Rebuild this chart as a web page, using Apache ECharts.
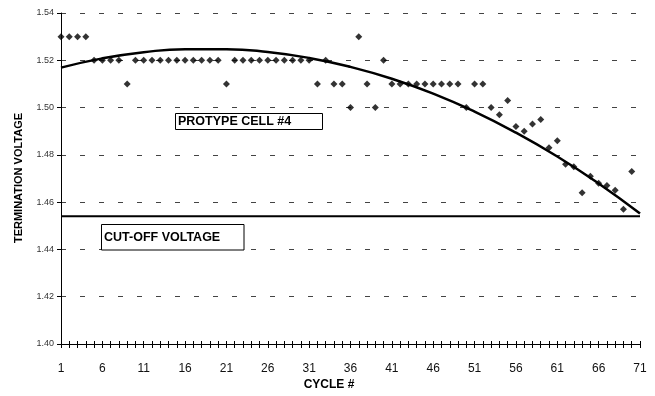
<!DOCTYPE html>
<html>
<head>
<meta charset="utf-8">
<script src="https://cdn.jsdelivr.net/npm/echarts@6/dist/echarts.min.js"></script>
<style>
  html, body { margin: 0; padding: 0; background: #fff; }
  #main { width: 655px; height: 396px; }
</style>
</head>
<body>
<div id="main"></div>
<script>
// cycle numbers 1..71 on the x axis
var cycles = [];
for (var i = 1; i <= 71; i++) cycles.push(String(i));

// termination voltage per cycle (cycles 1..70)
var voltage = [
  1.53, 1.53, 1.53, 1.53, 1.52, 1.52, 1.52, 1.52, 1.51, 1.52,
  1.52, 1.52, 1.52, 1.52, 1.52, 1.52, 1.52, 1.52, 1.52, 1.52,
  1.51, 1.52, 1.52, 1.52, 1.52, 1.52, 1.52, 1.52, 1.52, 1.52,
  1.52, 1.51, 1.52, 1.51, 1.51, 1.50, 1.53, 1.51, 1.50, 1.52,
  1.51, 1.51, 1.51, 1.51, 1.51, 1.51, 1.51, 1.51, 1.51, 1.50,
  1.51, 1.51, 1.50, 1.497, 1.503, 1.492, 1.490, 1.493, 1.495, 1.483,
  1.486, 1.476, 1.475, 1.464, 1.471, 1.468, 1.467, 1.465, 1.457, 1.473
];

// trend curve
var trendCycles = ['1', '6', '11', '16', '21', '26', '31', '36', '41', '46', '51', '56', '61', '66', '71'];
var trendValues = [1.5169, 1.5208, 1.5234, 1.5247, 1.5247, 1.5235, 1.5210, 1.5172, 1.5122, 1.5059, 1.4983, 1.4894, 1.4793, 1.4679, 1.4552];

// cut-off voltage level
var cutOff = 1.454;
var cutOffCycles = ['1', '71'];

var yTicks = { min: 1.40, max: 1.54, step: 0.02 };

var font = 'Liberation Sans, Arial, sans-serif';
var chart = echarts.init(document.getElementById('main'));

var trendData = trendCycles.map(function (c, k) { return [c, trendValues[k]]; });
var cutOffData = cutOffCycles.map(function (c) { return [c, cutOff]; });

chart.setOption({
  animation: false,
  grid: { left: 61, right: 15, top: 13, bottom: 52 },
  xAxis: [{
    type: 'category',
    data: cycles,
    boundaryGap: false,
    axisLine: { lineStyle: { color: '#000', width: 1 } },
    axisTick: { show: true, interval: 0, length: 4, lineStyle: { color: '#000' } },
    axisLabel: {
      interval: 4, margin: 19, color: '#111',
      fontFamily: font, fontSize: 12
    },
    splitLine: { show: false }
  }, {
    type: 'category',
    data: cycles,
    position: 'bottom',
    boundaryGap: false,
    axisLine: { show: false },
    axisTick: { show: true, inside: true, interval: 0, length: 3, lineStyle: { color: '#000' } },
    axisLabel: { show: false },
    splitLine: { show: false }
  }],
  yAxis: {
    type: 'value',
    min: yTicks.min,
    max: yTicks.max,
    interval: yTicks.step,
    axisLine: { show: true, lineStyle: { color: '#000', width: 1 } },
    axisTick: { show: true, length: 4, lineStyle: { color: '#000' } },
    axisLabel: {
      margin: 7, color: '#333', fontFamily: font, fontSize: 9,
      formatter: function (v) { return v.toFixed(2); }
    },
    splitLine: {
      show: true,
      lineStyle: { color: '#444', width: 1, type: [5, 14] }
    }
  },
  series: [{
    type: 'scatter',
    data: voltage,
    symbol: 'diamond',
    symbolSize: 7,
    itemStyle: { color: '#000' }
  }, {
    type: 'line',
    data: trendData,
    smooth: true,
    showSymbol: false,
    lineStyle: { color: '#000', width: 2.5 },
    z: 3
  }, {
    type: 'line',
    data: cutOffData,
    showSymbol: false,
    lineStyle: { color: '#000', width: 2 },
    z: 3
  }],
  graphic: [{
    type: 'text',
    x: 19, y: 178,
    rotation: Math.PI / 2,
    style: {
      text: 'TERMINATION VOLTAGE',
      font: 'bold 11px ' + font,
      fill: '#000',
      align: 'center',
      verticalAlign: 'middle'
    }
  }, {
    type: 'text',
    x: 329, y: 385,
    style: {
      text: 'CYCLE #',
      font: 'bold 12px ' + font,
      fill: '#000',
      align: 'center',
      verticalAlign: 'middle'
    }
  }, {
    type: 'rect',
    shape: { x: 175.5, y: 113.5, width: 147, height: 16 },
    style: { fill: '#fff', stroke: '#000', lineWidth: 1 },
    z: 10
  }, {
    type: 'text',
    x: 178, y: 122,
    style: {
      text: 'PROTYPE CELL #4',
      font: 'bold 12.5px ' + font,
      fill: '#000',
      verticalAlign: 'middle'
    },
    z: 11
  }, {
    type: 'rect',
    shape: { x: 101.5, y: 224.5, width: 142.5, height: 25.5 },
    style: { fill: '#fff', stroke: '#000', lineWidth: 1 },
    z: 10
  }, {
    type: 'text',
    x: 104, y: 237.5,
    style: {
      text: 'CUT-OFF VOLTAGE',
      font: 'bold 12.5px ' + font,
      fill: '#000',
      verticalAlign: 'middle'
    },
    z: 11
  }]
});
</script>
</body>
</html>
